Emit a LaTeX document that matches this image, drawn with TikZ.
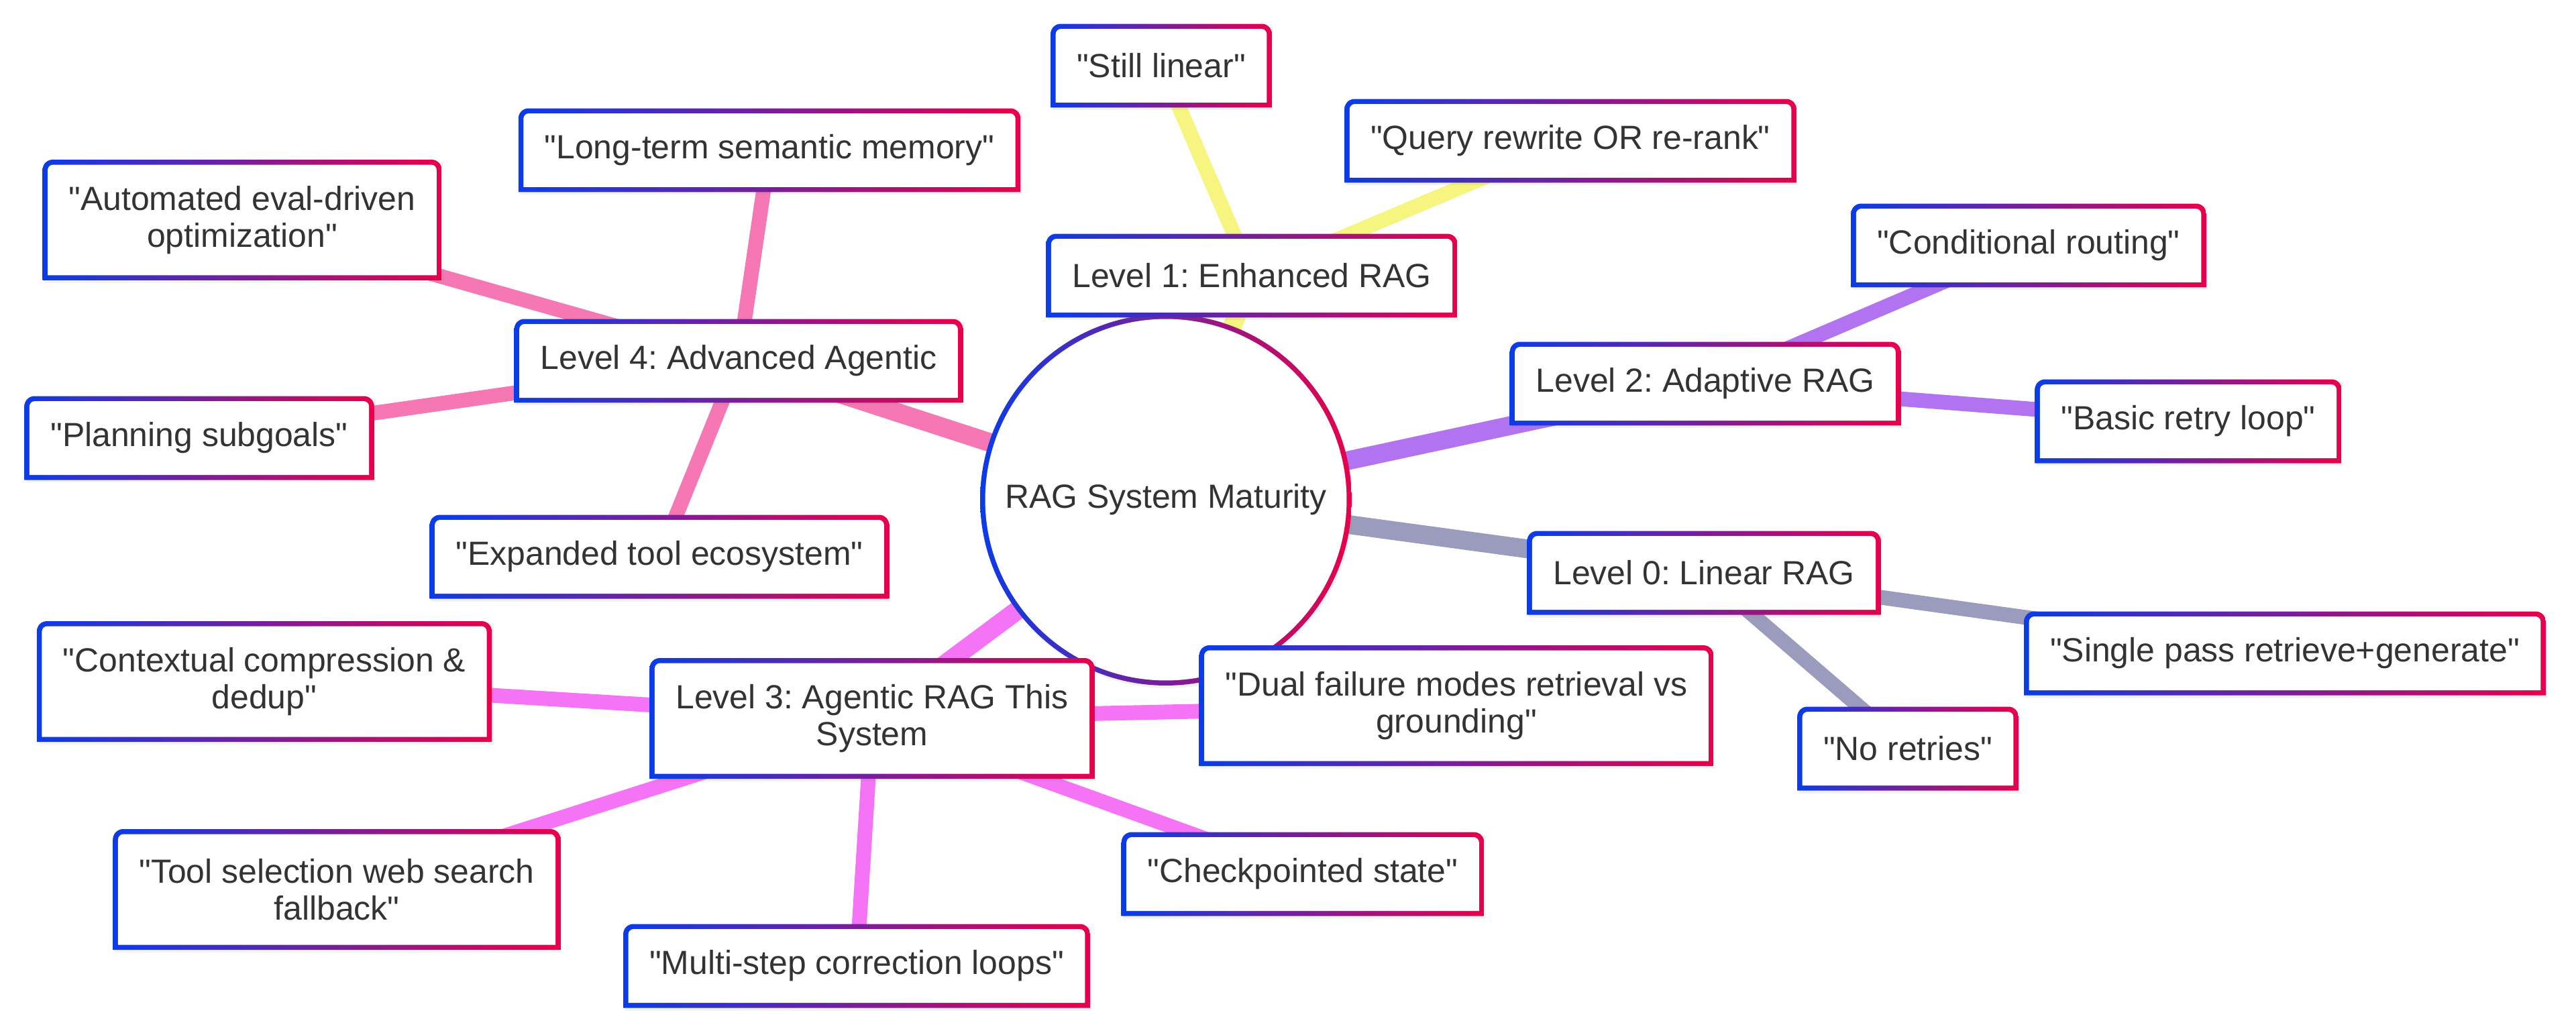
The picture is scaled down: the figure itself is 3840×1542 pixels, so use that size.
\documentclass[tikz,border=0pt]{standalone}
\usepackage{fontspec}
\setmainfont{Liberation Sans}[Ligatures=TeXOff]
\usepackage{xcolor}
\usepackage{tikz}
\usetikzlibrary{positioning,backgrounds,shadows}

\definecolor{gblue}{HTML}{0A3CE8}
\definecolor{gred}{HTML}{E8004A}
\definecolor{txtgray}{HTML}{333333}
\definecolor{lvlonecol}{HTML}{F5F580}
\definecolor{lvltwocol}{HTML}{B273F0}
\definecolor{lvlzerocol}{HTML}{9B9BBE}
\definecolor{lvlthreecol}{HTML}{F573F5}
\definecolor{lvlfourcol}{HTML}{F578B4}

\begin{document}
\frenchspacing
\begin{tikzpicture}[
    x=0.02cm, y=-0.02cm,
    font=\fontsize{28.4}{31.3}\selectfont,
    box/.style={rectangle, inner xsep=0.78cm, inner ysep=0pt, minimum height=2.5cm,
                align=center, text=txtgray,
                drop shadow={shadow xshift=0.05cm, shadow yshift=-0.08cm, opacity=0.10},
                path picture={
                  \coordinate (bsw) at (path picture bounding box.south west);
                  \coordinate (bne) at (path picture bounding box.north east);
                  \shade[left color=gblue, right color=gred]
                    (bsw) -- ([yshift=-0.3cm]bsw |- bne)
                    arc[start angle=180, end angle=90, radius=0.3cm]
                    -- ([xshift=-0.3cm]bne)
                    arc[start angle=90, end angle=0, radius=0.3cm]
                    -- (bne |- bsw) -- cycle;
                  \fill[white]
                    ([shift={(0.15cm,0.15cm)}]bsw) -- ([shift={(0.15cm,-0.31cm)}]bsw |- bne)
                    arc[start angle=180, end angle=90, radius=0.16cm]
                    -- ([shift={(-0.31cm,-0.15cm)}]bne)
                    arc[start angle=90, end angle=0, radius=0.16cm]
                    -- ([shift={(-0.15cm,0.15cm)}]bne |- bsw) -- cycle;
                }},
    tall/.style={box, minimum height=3.6cm},
    hub/.style={circle, minimum size=11.08cm, inner sep=0pt, text=txtgray,
                drop shadow={shadow xshift=0.05cm, shadow yshift=-0.08cm, opacity=0.10},
                path picture={
                  \shade[left color=gblue, right color=gred]
                    (path picture bounding box.south west) rectangle (path picture bounding box.north east);
                  \fill[white] (path picture bounding box.center) circle[radius=5.39cm];
                }},
    trunk/.style={line width=0.56cm},
    twig/.style={line width=0.44cm}
]
\useasboundingbox (0,0) rectangle (3840,1542);

\node[hub]  (root)      at (1738,745)  {RAG System Maturity};

\node[box]  (lvlone)    at (1866,411)  {Level 1: Enhanced RAG};
\node[box]  (still)     at (1731,98)   {"Still linear"};
\node[box]  (query)     at (2341,210)  {"Query rewrite OR re-rank"};

\node[box]  (lvltwo)    at (2542,572)  {Level 2: Adaptive RAG};
\node[box]  (condrout)  at (3024,366)  {"Conditional routing"};
\node[box]  (retry)     at (3262,628)  {"Basic retry loop"};

\node[box]  (lvlzero)   at (2540,854)  {Level 0: Linear RAG};
\node[box]  (single)    at (3406,974)  {"Single pass retrieve+generate"};
\node[box]  (noretry)   at (2844,1116) {"No retries"};

\node[tall] (lvlthree)  at (1300,1071) {Level 3: Agentic RAG This\\System};
\node[tall] (dual)      at (2171,1052) {"Dual failure modes retrieval vs\\grounding"};
\node[box]  (checkpt)   at (1942,1303) {"Checkpointed state"};
\node[box]  (multistep) at (1277,1440) {"Multi-step correction loops"};
\node[tall] (toolsel)   at (502,1326)  {"Tool selection web search\\fallback"};
\node[tall] (context)   at (394,1016)  {"Contextual compression \&\\dedup"};

\node[box]  (lvlfour)   at (1101,538)  {Level 4: Advanced Agentic};
\node[box]  (expanded)  at (983,830)   {"Expanded tool ecosystem"};
\node[box]  (planning)  at (297,653)   {"Planning subgoals"};
\node[tall] (automated) at (361,328)   {"Automated eval-driven\\optimization"};
\node[box]  (longterm)  at (1147,224)  {"Long-term semantic memory"};

\begin{scope}[on background layer]
\draw[trunk, lvlonecol]   (root.center) -- (lvlone.center);
\draw[twig,  lvlonecol]   (lvlone.center) -- (still.center);
\draw[twig,  lvlonecol]   (lvlone.center) -- (query.center);

\draw[trunk, lvltwocol]   (root.center) -- (lvltwo.center);
\draw[twig,  lvltwocol]   (lvltwo.center) -- (condrout.center);
\draw[twig,  lvltwocol]   (lvltwo.center) -- (retry.center);

\draw[trunk, lvlzerocol]  (root.center) -- (lvlzero.center);
\draw[twig,  lvlzerocol]  (lvlzero.center) -- (single.center);
\draw[twig,  lvlzerocol]  (lvlzero.center) -- (noretry.center);

\draw[trunk, lvlthreecol] (root.center) -- (lvlthree.center);
\draw[twig,  lvlthreecol] (lvlthree.center) -- (dual.center);
\draw[twig,  lvlthreecol] (lvlthree.center) -- (checkpt.center);
\draw[twig,  lvlthreecol] (lvlthree.center) -- (multistep.center);
\draw[twig,  lvlthreecol] (lvlthree.center) -- (toolsel.center);
\draw[twig,  lvlthreecol] (lvlthree.center) -- (context.center);

\draw[trunk, lvlfourcol]  (root.center) -- (lvlfour.center);
\draw[twig,  lvlfourcol]  (lvlfour.center) -- (expanded.center);
\draw[twig,  lvlfourcol]  (lvlfour.center) -- (planning.center);
\draw[twig,  lvlfourcol]  (lvlfour.center) -- (automated.center);
\draw[twig,  lvlfourcol]  (lvlfour.center) -- (longterm.center);
\end{scope}
\end{tikzpicture}
\end{document}
